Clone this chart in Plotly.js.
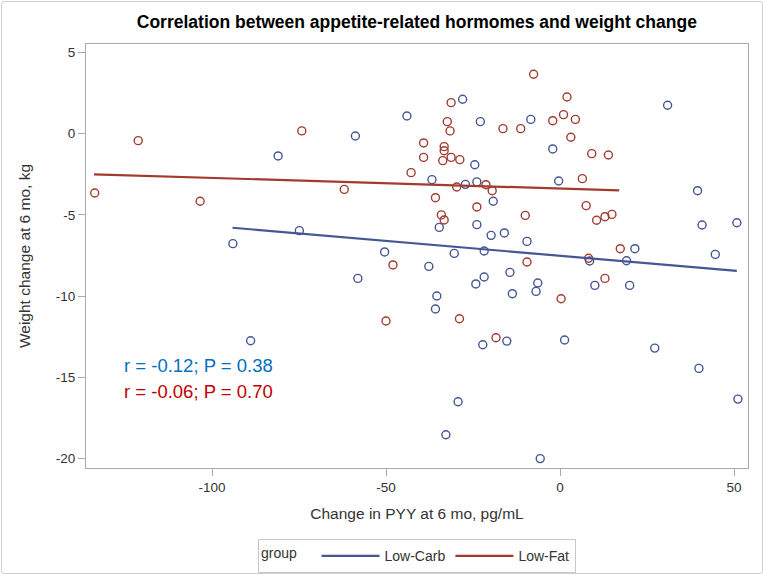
<!DOCTYPE html>
<html>
<head>
<meta charset="utf-8">
<script src="https://cdn.plot.ly/plotly-3.0.1.min.js"></script>
<style>
  html, body { margin: 0; padding: 0; background: #fff; }
  #frame { position: absolute; left: 1px; top: 1px; width: 760px; height: 571px; border: 1px solid #d0d0d0; border-radius: 3px; }
  #chart { position: absolute; left: 0; top: 0; width: 764px; height: 575px; }
</style>
</head>
<body>
<div id="frame"></div>
<div id="chart"></div>
<script>
// Low-Carb group (blue)
const carbX = [-94.0, -81.0, -74.9, -88.9, -58.8, -44.0, -28.0, -22.9, -8.4, -24.5, -36.8, -27.2, -23.9,
  -19.2, -34.7, -23.9, -19.8, -16.0, -9.5, -50.4, -30.4, -21.8, -58.1, -37.7, -14.4, -21.8, -24.2, -13.7,
  -35.4, -35.8, -15.3, -22.2, -29.3, -32.8, 30.9, -2.1, -0.4, 39.5, 40.8, 50.8, 21.5, 44.6, 8.5, 19.1,
  -6.4, -6.9, 10.0, 20.0, 1.3, 27.2, 39.9, 51.1, -5.7];
const carbY = [-6.77, -1.37, -5.97, -12.75, -0.14, 1.09, 2.12, 0.74, 0.88, -1.91, -2.83, -3.12, -2.97,
  -4.16, -5.77, -5.6, -6.26, -6.11, -6.63, -7.28, -7.37, -7.22, -8.91, -8.17, -8.54, -8.82, -9.25, -9.85,
  -9.99, -10.79, -12.77, -12.99, -16.5, -18.53, 1.75, -0.94, -2.91, -3.51, -5.62, -5.48, -7.08, -7.43, -7.84, -7.82,
  -9.19, -9.71, -9.34, -9.34, -12.7, -13.2, -14.45, -16.34, -20.0];
// Low-Fat group (red)
const fatX = [-133.7, -121.2, -103.4, -74.2, -31.3, -32.4, -31.6, -16.4, -11.3, -39.2, -33.3, -33.3, -39.2,
  -33.7, -31.3, -28.8, -42.8, -29.7, -21.3, -19.5, -62.0, -35.8, -23.9, -10.0, -34.1, -33.3, -7.6, 2.0,
  -2.1, 1.0, 4.4, 3.1, 9.1, 13.9, 6.4, 7.5, 10.5, 12.9, 14.9, 17.3, -9.5, -48.0, 8.2, 12.9, 0.3,
  -50.0, -28.9, -18.4];
const fatY = [-3.65, -0.43, -4.16, 0.17, 1.91, 0.74, 0.17, 0.31, 0.31, -0.57, -0.8, -1.05, -1.46,
  -1.66, -1.46, -1.6, -2.4, -3.28, -3.14, -3.51, -3.43, -3.94, -4.51, -5.03, -5.0, -5.31, 3.66, 2.26,
  0.8, 1.17, 0.88, -0.22, -1.23, -1.31, -2.77, -4.43, -5.33, -5.11, -4.97, -7.08, -7.9, -8.08, -7.67, -8.91, -10.16,
  -11.53, -11.39, -12.56];
// Regression fit lines (end points)
const carbFitX = [-94.1, 50.8];
const carbFitY = [-5.79, -8.45];
const fatFitX = [-133.9, 17.0];
const fatFitY = [-2.5, -3.49];
const groupNames = ['Low-Carb', 'Low-Fat'];
const statLabels = ['r = -0.12; P = 0.38', 'r = -0.06; P = 0.70'];
const xTicks = [-100, -50, 0, 50];
const yTicks = [5, 0, -5, -10, -15, -20];

const BLUE = '#445694', RED = '#A23A2E';
const FONT = 'Liberation Sans, Arial, sans-serif';

const traces = [
  { x: carbX, y: carbY, type: 'scatter', mode: 'markers', showlegend: false, hoverinfo: 'x+y',
    marker: { symbol: 'circle-open', size: 8, color: BLUE, line: { width: 1.4, color: BLUE } } },
  { x: fatX, y: fatY, type: 'scatter', mode: 'markers', showlegend: false, hoverinfo: 'x+y',
    marker: { symbol: 'circle-open', size: 8, color: RED, line: { width: 1.4, color: RED } } },
  { x: carbFitX, y: carbFitY, type: 'scatter', mode: 'lines', name: groupNames[0],
    line: { color: BLUE, width: 2.2 } },
  { x: fatFitX, y: fatFitY, type: 'scatter', mode: 'lines', name: groupNames[1],
    line: { color: RED, width: 2.2 } }
];

const layout = {
  width: 764, height: 575,
  paper_bgcolor: 'rgba(0,0,0,0)', plot_bgcolor: '#fff',
  margin: { l: 86, r: 16, t: 44, b: 107, autoexpand: false },
  font: { family: FONT, size: 12, color: '#333' },
  title: { text: '<b>Correlation between appetite-related hormomes and weight change</b>',
    font: { family: FONT, size: 17.5, color: '#000' }, x: 0.5456, xanchor: 'center', y: 0.962, yanchor: 'middle' },
  xaxis: {
    range: [-136.2, 54.0], tickvals: xTicks, ticktext: xTicks.map(String),
    showgrid: false, zeroline: false, showline: true, mirror: true, linecolor: '#aaaaaa', linewidth: 1,
    ticks: 'outside', ticklen: 7, tickcolor: '#aaaaaa', tickfont: { size: 13.5, color: '#333' },
    title: { text: 'Change in PYY at 6 mo, pg/mL', font: { size: 15.5, color: '#333' }, standoff: 13 }
  },
  yaxis: {
    range: [-20.58, 5.52], tickvals: yTicks, ticktext: yTicks.map(String),
    showgrid: false, zeroline: false, showline: true, mirror: true, linecolor: '#aaaaaa', linewidth: 1,
    ticks: 'outside', ticklen: 7, tickcolor: '#aaaaaa', tickfont: { size: 13.5, color: '#333' },
    title: { text: 'Weight change at 6 mo, kg', font: { size: 15.5, color: '#333' }, standoff: 21 }
  },
  legend: {
    orientation: 'h', x: 0.5, xanchor: 'center', y: -0.168, yanchor: 'top',
    bordercolor: '#c8c8c8', borderwidth: 1, bgcolor: '#fff',
    font: { size: 14, color: '#333' }, itemwidth: 58, tracegroupgap: 0, valign: 'middle',
    title: { text: 'group   ', side: 'left', font: { size: 14, color: '#333' } }
  },
  annotations: [
    { text: statLabels[0], xref: 'x', yref: 'y', x: -125.8, y: -14.3, xanchor: 'left', yanchor: 'middle',
      showarrow: false, font: { family: FONT, size: 18.5, color: '#0070C0' } },
    { text: statLabels[1], xref: 'x', yref: 'y', x: -125.8, y: -15.85, xanchor: 'left', yanchor: 'middle',
      showarrow: false, font: { family: FONT, size: 18.5, color: '#C00000' } }
  ]
};

Plotly.newPlot('chart', traces, layout, { displayModeBar: false, staticPlot: true });
</script>
</body>
</html>
